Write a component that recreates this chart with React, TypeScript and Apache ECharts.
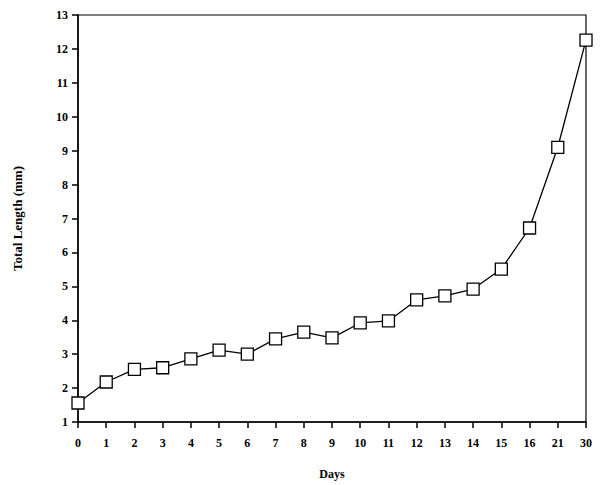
import React, { useEffect, useRef } from "react";
import * as echarts from "echarts";

const days = ["0", "1", "2", "3", "4", "5", "6", "7", "8", "9", "10", "11", "12", "13", "14", "15", "16", "21", "30"];
const totalLength = [1.56, 2.18, 2.55, 2.6, 2.86, 3.12, 3.0, 3.45, 3.65, 3.48, 3.92, 3.98, 4.6, 4.72, 4.92, 5.51, 6.72, 9.1, 12.26];

const font = "'Liberation Serif', 'Times New Roman', serif";

export default function App() {
  const ref = useRef<HTMLDivElement>(null);
  useEffect(() => {
    if (!ref.current) return;
    const chart = echarts.init(ref.current, undefined, { renderer: "svg" });
    chart.setOption({
      animation: false,
      backgroundColor: "#ffffff",
      grid: { left: 78, right: 14, top: 15, bottom: 63, show: true, borderColor: "#000", borderWidth: 1.2, backgroundColor: "transparent" },
      xAxis: {
        type: "category",
        data: days,
        boundaryGap: false,
        name: "Days",
        nameLocation: "middle",
        nameGap: 46,
        nameTextStyle: { fontFamily: font, fontWeight: "bold", fontSize: 12, color: "#000" },
        axisLine: { lineStyle: { color: "#000", width: 1.5 } },
        axisTick: { show: true, length: 6, inside: false, lineStyle: { color: "#000", width: 1.5 } },
        axisLabel: { fontFamily: font, fontWeight: "bold", fontSize: 12, color: "#000", margin: 15, interval: 0 },
        splitLine: { show: false },
      },
      yAxis: {
        type: "value",
        min: 1,
        max: 13,
        interval: 1,
        name: "Total Length (mm)",
        nameLocation: "middle",
        nameGap: 54,
        nameRotate: 90,
        nameTextStyle: { fontFamily: font, fontWeight: "bold", fontSize: 13, color: "#000" },
        axisLine: { show: true, lineStyle: { color: "#000", width: 1.5 } },
        axisTick: { show: true, length: 6, inside: false, lineStyle: { color: "#000", width: 1.5 } },
        axisLabel: { fontFamily: font, fontWeight: "bold", fontSize: 12, color: "#000", margin: 10 },
        splitLine: { show: false },
      },
      series: [
        {
          type: "line",
          data: totalLength,
          symbol: "rect",
          symbolSize: 12,
          itemStyle: { color: "#fff", borderColor: "#000", borderWidth: 1.3 },
          lineStyle: { color: "#000", width: 1.3 },
        },
      ],
    });
    return () => chart.dispose();
  }, []);
  return <div ref={ref} style={{ width: 600, height: 485, position: "absolute", left: 0, top: 0 }} />;
}
